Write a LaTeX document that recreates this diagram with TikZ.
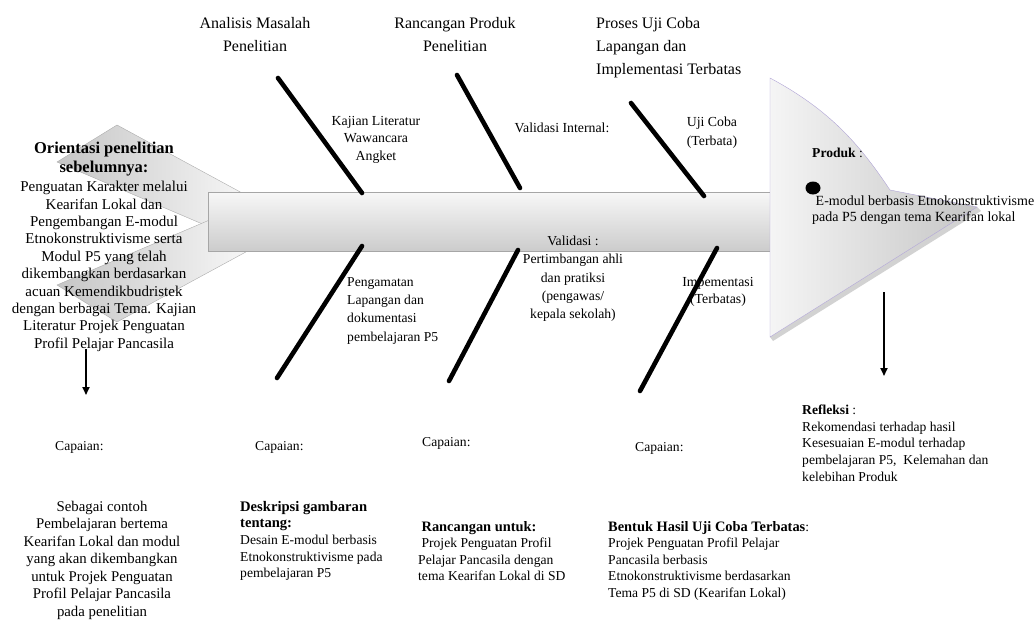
\documentclass[tikz,border=0pt]{standalone}
\usepackage{fontspec}
\setmainfont{Liberation Serif}
\usetikzlibrary{arrows.meta, positioning}
\definecolor{headline}{RGB}{176,164,214}

\begin{document}
\begin{tikzpicture}[x=1pt, y=-1pt,
		bone/.style={line width=4.6pt, line cap=round},
		flow/.style={-{Triangle[length=8pt, width=7pt]}, line width=1.8pt},
		hdr/.style={inner sep=0pt, align=center, font={\fontsize{16}{23}\selectfont}},
		lbl/.style={inner sep=0pt, font={\fontsize{13.8}{17.5}\selectfont}},
		body/.style={inner sep=0pt, font={\fontsize{13.6}{16.6}\selectfont}}]
		
		\useasboundingbox (0,0) rectangle (1034,619);
		
		% ---------------------------------------------------------
		% TAIL, SPINE AND HEAD
		% ---------------------------------------------------------
		\draw[gray!65, left color=gray!45, right color=gray!5] (57,162) -- (117,125) -- (255,200) -- (240,240) -- cycle;
		\draw[gray!65, left color=gray!45, right color=gray!5] (57,285) -- (117,322) -- (255,247) -- (240,207) -- cycle;
		
		% Spine
		\draw[gray!70, top color=gray!6, bottom color=gray!40] (208,192) rectangle (775,251);
		
		% Head (light purple outline)
		\fill[gray!35] (773,341) -- (981,211) -- (977,207) -- (770,337) -- cycle;
		\draw[headline, left color=gray!8, right color=gray!45]
			(770,78) .. controls (830,110) and (860,145) .. (890,190) -- (977,207) -- (770,337) -- cycle;
		
		% ---------------------------------------------------------
		% TEXTS
		% ---------------------------------------------------------
		% Categories on top
		\node[hdr, anchor=north] (anlz) at (255,17) {Analisis Masalah\\Penelitian};
		\node[hdr, anchor=north] (rcng) at (455,17) {Rancangan Produk\\Penelitian};
		\node[hdr, anchor=north west, align=left] (uji) at (596,17) {Proses Uji Coba\\Lapangan dan\\Implementasi Terbatas};
		
		% Tail text
		\node[inner sep=0pt, align=center, font={\fontsize{16.5}{19}\selectfont\bfseries}, anchor=north] (orit) at (104,142) {Orientasi penelitian\\sebelumnya:};
		\node[inner sep=0pt, align=center, font={\fontsize{15}{17.4}\selectfont}, anchor=north] (orib) at (104,181)
			{Penguatan Karakter melalui\\Kearifan Lokal dan\\Pengembangan E-modul\\Etnokonstruktivisme serta\\Modul P5 yang telah\\dikembangkan berdasarkan\\acuan Kemendikbudristek\\dengan berbagai Tema. Kajian\\Literatur Projek Penguatan\\Profil Pelajar Pancasila};
		
		% Labels along the bones
		\node[lbl, align=center, anchor=north] (kaji) at (376,116) {Kajian Literatur\\Wawancara\\Angket};
		\node[lbl, anchor=north] (vint) at (562,123) {Validasi Internal:};
		\node[lbl, align=center, anchor=north, font={\fontsize{13.8}{19}\selectfont}] (ujib) at (712,117) {Uji Coba\\(Terbata)};
		\node[lbl, align=left, anchor=north west, font={\fontsize{13.6}{18.4}\selectfont}] (amat) at (347,277) {Pengamatan\\Lapangan dan\\dokumentasi\\pembelajaran P5};
		\node[lbl, align=center, anchor=north, font={\fontsize{13.7}{18.2}\selectfont}] (vald) at (573,236) {Validasi :\\Pertimbangan ahli\\dan pratiksi\\(pengawas/\\kepala sekolah)};
		\node[lbl, align=center, anchor=north] (impl) at (718,277) {Impementasi\\(Terbatas)};
		
		% Head text
		\node[body, anchor=north west] (prod) at (812,148) {\textbf{Produk} :};
		\node[body, align=left, anchor=north west, font={\fontsize{14}{15.2}\selectfont}] (prdk) at (812,196)
			{\ E-modul berbasis Etnokonstruktivisme\\pada P5 dengan tema Kearifan lokal};
		
		% Capaian row
		\node[body, anchor=north west] (cap1) at (55,441) {Capaian:};
		\node[body, anchor=north west] (cap2) at (255,441) {Capaian:};
		\node[body, anchor=north west] (cap3) at (422,437) {Capaian:};
		\node[body, anchor=north west] (cap4) at (635,442) {Capaian:};
		
		% Outcomes
		\node[inner sep=0pt, align=center, font={\fontsize{14.8}{17.5}\selectfont}, anchor=north] (hsl1) at (102,501)
			{Sebagai contoh\\Pembelajaran bertema\\Kearifan Lokal dan modul\\yang akan dikembangkan\\untuk Projek Penguatan\\Profil Pelajar Pancasila\\pada penelitian};
		\node[body, align=left, anchor=north west] (hsl2) at (240,501)
			{{\fontsize{14.6}{16.6}\selectfont\bfseries Deskripsi gambaran}\\{\fontsize{14.6}{16.6}\selectfont\bfseries tentang:}\\Desain E-modul berbasis\\Etnokonstruktivisme pada\\pembelajaran P5};
		\node[body, align=left, anchor=north west] (hsl3) at (418,521)
			{\ {\fontsize{14.4}{16.6}\selectfont\bfseries Rancangan untuk:}\\\ Projek Penguatan Profil\\Pelajar Pancasila dengan\\tema Kearifan Lokal di SD};
		\node[body, align=left, anchor=north west] (hsl4) at (608,521)
			{{\fontsize{14.4}{16.6}\selectfont\bfseries Bentuk Hasil Uji Coba Terbatas}:\\Projek Penguatan Profil Pelajar\\Pancasila berbasis\\Etnokonstruktivisme berdasarkan\\Tema P5 di SD (Kearifan Lokal)};
		\node[body, align=left, anchor=north west] (rflk) at (802,405)
			{\textbf{Refleksi} :\\Rekomendasi terhadap hasil\\Kesesuaian E-modul terhadap\\pembelajaran P5,\ \ Kelemahan dan\\kelebihan Produk};
		
		% ---------------------------------------------------------
		% BONES AND ARROWS
		% ---------------------------------------------------------
		\coordinate (b1t) at (278,78);  \coordinate (b1s) at (362,193);
		\coordinate (b2t) at (457,75);  \coordinate (b2s) at (520,188);
		\coordinate (b3t) at (631,103); \coordinate (b3s) at (704,196);
		\coordinate (b4s) at (362,246); \coordinate (b4e) at (277,378);
		\coordinate (b5s) at (518,250); \coordinate (b5e) at (449,381);
		\coordinate (b6s) at (717,248); \coordinate (b6e) at (640,391);
		
		\draw[bone] (b1t) -- (b1s);
		\draw[bone] (b2t) -- (b2s);
		\draw[bone] (b3t) -- (b3s);
		\draw[bone] (b4s) -- (b4e);
		\draw[bone] (b5s) -- (b5e);
		\draw[bone] (b6s) -- (b6e);
		
		\coordinate (a1s) at (86,349); \coordinate (a1e) at (86,395);
		\coordinate (a2s) at (884,292); \coordinate (a2e) at (884,376);
		\draw[flow] (a1s) -- (a1e);
		\draw[flow] (a2s) -- (a2e);
		
		% Dot in the head
		\fill (813,188) ellipse [x radius=7.5pt, y radius=6.5pt];
		
	\end{tikzpicture}
\end{document}
